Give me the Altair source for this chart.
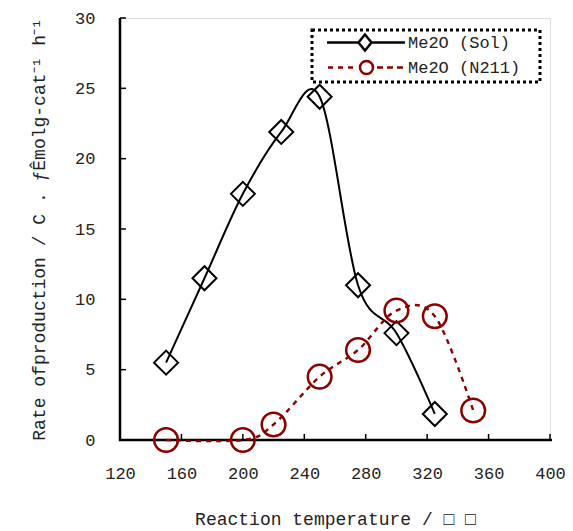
import altair as alt
import pandas as pd

# ---- data ----
series_names = ["Me2O (Sol)", "Me2O (N211)"]
sol_temp = [150, 175, 200, 225, 250, 275, 300, 325]
sol_rate = [5.5, 11.5, 17.5, 21.9, 24.4, 11.0, 7.6, 1.85]
n211_temp = [150, 200, 220, 250, 275, 300, 325, 350]
n211_rate = [0.0, 0.0, 1.1, 4.5, 6.4, 9.2, 8.8, 2.1]
x_tick_values = [120, 160, 200, 240, 280, 320, 360, 400]
y_tick_values = [0, 5, 10, 15, 20, 25, 30]
x_title = "Reaction temperature / □ □"
y_title = "Rate ofproduction / C . ƒÊmolg-cat⁻¹ h⁻¹"

W, H = 430, 422
FONT = "Liberation Mono"
RED = "#8B0000"
TXT = "#222222"

sol = pd.DataFrame({"temp": sol_temp, "rate": sol_rate, "series": series_names[0]})
n211 = pd.DataFrame({"temp": n211_temp, "rate": n211_rate, "series": series_names[1]})
both = pd.concat([sol, n211], ignore_index=True)
xt = pd.DataFrame({"temp": x_tick_values})
yt = pd.DataFrame({"rate": y_tick_values})

xscale = alt.Scale(domain=[120, 400], nice=False, zero=False)
yscale = alt.Scale(domain=[0, 30], nice=False)

common_axis = dict(
    ticks=False, tickSize=0, grid=False, domain=False,
    labelFont=FONT, labelFontSize=17, labelColor=TXT, labelFlush=False,
    labelOverlap=False, titleFont=FONT, titleFontSize=18,
    titleFontWeight="normal", titleColor=TXT, zindex=0,
)


def X():
    return alt.X("temp:Q", scale=xscale,
                 axis=alt.Axis(title=x_title, values=x_tick_values,
                               labelPadding=25, titlePadding=29, **common_axis))


def Y():
    return alt.Y("rate:Q", scale=yscale,
                 axis=alt.Axis(title=y_title, values=y_tick_values,
                               labelPadding=25, titlePadding=26, **common_axis))


# legend symbols: line + marker drawn in one path (unit = 10 px)
sol_sym = ("M-0.05,0L3.1,0M3.75,-0.8L4.4,0L3.75,0.8L3.1,0Z"
           "M4.4,0L7.75,0")
n211_sym = ("M0.05,0L0.55,0M1.05,0L1.55,0M2.05,0L2.55,0"
            "M3.25,0A0.65,0.65 0 1,0 4.55,0A0.65,0.65 0 1,0 3.25,0Z"
            "M4.95,0L5.55,0M5.95,0L6.55,0M6.95,0L7.55,0")

leg = alt.Legend(
    title=None, orient="none", legendX=192, legendY=9,
    padding=4, symbolSize=400, symbolStrokeWidth=2.5, labelFont=FONT,
    labelFontSize=17, labelColor=TXT, labelOffset=69, rowPadding=0,
)

frame_df = pd.DataFrame({"k": [0]})

# axis lines (drawn beneath the data marks)
x_domain = alt.Chart(frame_df).mark_rule(color="black", strokeWidth=2.5).encode(
    x=alt.value(-1), x2=alt.value(W + 2), y=alt.value(H)
)
y_domain = alt.Chart(frame_df).mark_rule(color="black", strokeWidth=2.5).encode(
    y=alt.value(0), y2=alt.value(H + 1), x=alt.value(0)
)

# dotted frame behind the legend
legend_frame = alt.Chart(frame_df).mark_rect(
    fill="white", stroke="black", strokeWidth=3, strokeDash=[3, 3]
).encode(x=alt.value(192), x2=alt.value(420), y=alt.value(12), y2=alt.value(64))

sol_line = alt.Chart(sol).mark_line(
    color="black", strokeWidth=2, interpolate="cardinal"
).encode(x=X(), y=Y())

n211_line = alt.Chart(n211).mark_line(
    color=RED, strokeWidth=2.4, strokeDash=[5, 5], interpolate="cardinal"
).encode(x=X(), y=Y())

sol_pts = alt.Chart(sol).mark_point(
    shape="diamond", size=576, strokeWidth=2, color="black",
    filled=False, opacity=1
).encode(x=X(), y=Y())

n211_pts = alt.Chart(n211).mark_point(
    shape="circle", size=560, strokeWidth=2.5, color=RED,
    filled=False, opacity=1
).encode(x=X(), y=Y())

legend_layer = alt.Chart(both).transform_filter("datum.rate < -100").mark_point(
    filled=False, opacity=1, strokeWidth=2.5
).encode(
    x=X(), y=Y(),
    color=alt.Color("series:N", scale=alt.Scale(domain=series_names, range=["black", RED]), legend=leg),
    shape=alt.Shape("series:N", scale=alt.Scale(domain=series_names, range=[sol_sym, n211_sym]), legend=leg),
)

x_ticks = alt.Chart(xt).mark_rule(color="black", strokeWidth=1.5).encode(
    x=X(), y=alt.value(H), y2=alt.value(H - 6)
)
y_ticks = alt.Chart(yt).mark_rule(color="black", strokeWidth=1.5).encode(
    y=Y(), x=alt.value(0), x2=alt.value(6)
)

chart = alt.layer(
    x_domain, y_domain, x_ticks, y_ticks, sol_line, n211_line, sol_pts, n211_pts,
    legend_frame, legend_layer
).properties(
    width=W, height=H,
    autosize=alt.AutoSizeParams(type="none"),
    padding={"left": 112, "top": 10, "right": 15, "bottom": 90},
).configure_view(stroke=None).configure(background="white")

chart.save("out.html", embed_options={"renderer": "svg", "actions": False})
